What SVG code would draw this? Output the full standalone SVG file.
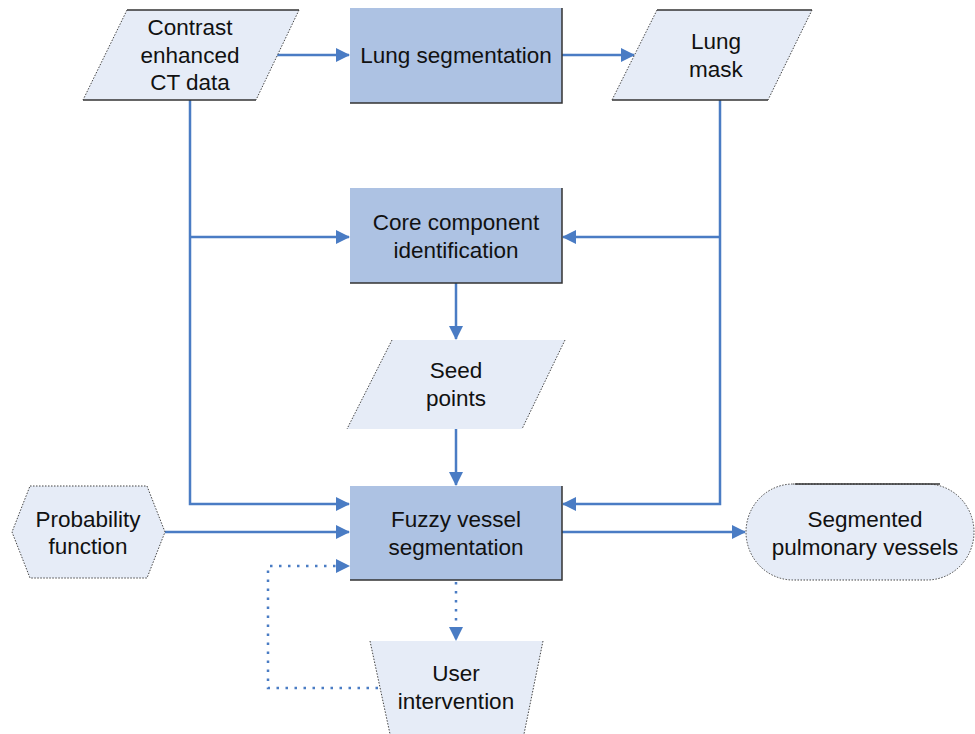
<svg xmlns="http://www.w3.org/2000/svg" width="975" height="734" viewBox="0 0 975 734">
<style>
text{font-family:"Liberation Sans",Arial,sans-serif;font-size:22.5px;fill:#111;text-anchor:middle}
.proc{fill:#adc2e3}
.sh{stroke:#333;stroke-width:1.5;fill:none}
.data{fill:#e6ecf7}
.dot{stroke:#444;stroke-width:1;stroke-dasharray:1.5 1.5;fill:none}
.solid{stroke:#333;stroke-width:1.5;fill:none}
.c{stroke:#4a7cc4;stroke-width:2.5;fill:none}
.cd{stroke:#4a7cc4;stroke-width:2.5;fill:none;stroke-dasharray:2.5 6.5}
</style>
<defs>
<marker id="ahb" markerWidth="14" markerHeight="14" refX="13" refY="7" orient="auto" markerUnits="userSpaceOnUse" viewBox="0 0 14 14">
<path d="M0,0 L14,7 L0,14 z" fill="#4a7cc4"/>
</marker>
</defs>

<g id="connectors">
<path class="c" d="M276,55 H349" marker-end="url(#ahb)"/>
<path class="c" d="M562,55 H634" marker-end="url(#ahb)"/>
<path class="c" d="M190,100 V504 H349" marker-end="url(#ahb)"/>
<path class="c" d="M190,237 H349" marker-end="url(#ahb)"/>
<path class="c" d="M720,100 V504 H563" marker-end="url(#ahb)"/>
<path class="c" d="M720,237 H563" marker-end="url(#ahb)"/>
<path class="c" d="M456,283 V339" marker-end="url(#ahb)"/>
<path class="c" d="M456,429 V485" marker-end="url(#ahb)"/>
<path class="c" d="M165,532 H349" marker-end="url(#ahb)"/>
<path class="c" d="M562,532 H745" marker-end="url(#ahb)"/>
<path class="cd" d="M456,582 V640" marker-end="url(#ahb)"/>
<path class="cd" d="M378,688 H268 V566 H349" marker-end="url(#ahb)"/>
</g>

<g id="contrast">
<polygon class="data" points="127,10 299,10 256,100 83,100"/>
<line class="solid" x1="127" y1="10" x2="299" y2="10"/>
<line class="solid" x1="83" y1="100" x2="256" y2="100"/>
<line class="dot" x1="127" y1="10" x2="83" y2="100"/>
<line class="dot" x1="299" y1="10" x2="256" y2="100"/>
<text x="190" y="35">Contrast</text>
<text x="190" y="63">enhanced</text>
<text x="190" y="90">CT data</text>
</g>

<g id="lungseg">
<rect class="proc" x="350" y="8" width="212" height="95"/>
<path class="sh" d="M562,8 V103 H350"/>
<text x="456" y="63">Lung segmentation</text>
</g>

<g id="lungmask">
<polygon class="data" points="657,10 812,10 768,100 612,100"/>
<line class="solid" x1="657" y1="10" x2="812" y2="10"/>
<line class="solid" x1="612" y1="100" x2="768" y2="100"/>
<line class="dot" x1="657" y1="10" x2="612" y2="100"/>
<line class="dot" x1="812" y1="10" x2="768" y2="100"/>
<text x="716" y="49">Lung</text>
<text x="716" y="77">mask</text>
</g>

<g id="core">
<rect class="proc" x="350" y="188" width="212" height="95"/>
<path class="sh" d="M562,188 V283 H350"/>
<text x="456" y="230">Core component</text>
<text x="456" y="258">identification</text>
</g>

<g id="seed">
<polygon class="data" points="392,340 565,340 522,429 347,429"/>
<line class="dot" x1="392" y1="340" x2="347" y2="429"/>
<line class="dot" x1="565" y1="340" x2="522" y2="429"/>
<text x="456" y="378">Seed</text>
<text x="456" y="406">points</text>
</g>

<g id="fuzzy">
<rect class="proc" x="350" y="486" width="212" height="94"/>
<path class="sh" d="M562,486 V580 H350"/>
<text x="456" y="527">Fuzzy vessel</text>
<text x="456" y="555">segmentation</text>
</g>

<g id="probability">
<polygon class="data" points="30,486 147,486 165,532 147,578 30,578 12,532"/>
<polygon class="dot" points="30,486 147,486 165,532 147,578 30,578 12,532"/>
<text x="88" y="527">Probability</text>
<text x="88" y="554">function</text>
</g>

<g id="segmented">
<path class="data" d="M793,484 H927 A47,48 0 0 1 927,580 H793 A47,48 0 0 1 793,484 Z"/>
<path class="dot" d="M793,484 H927 A47,48 0 0 1 927,580 H793 A47,48 0 0 1 793,484 Z"/>
<line class="solid" x1="795" y1="484" x2="940" y2="484"/>
<text x="865" y="527">Segmented</text>
<text x="865" y="555">pulmonary vessels</text>
</g>

<g id="user">
<polygon class="data" points="370,641 543,641 524,734 390,734"/>
<line class="dot" x1="370" y1="641" x2="390" y2="734"/>
<line class="dot" x1="543" y1="641" x2="524" y2="734"/>
<text x="456" y="681">User</text>
<text x="456" y="709">intervention</text>
</g>
</svg>
